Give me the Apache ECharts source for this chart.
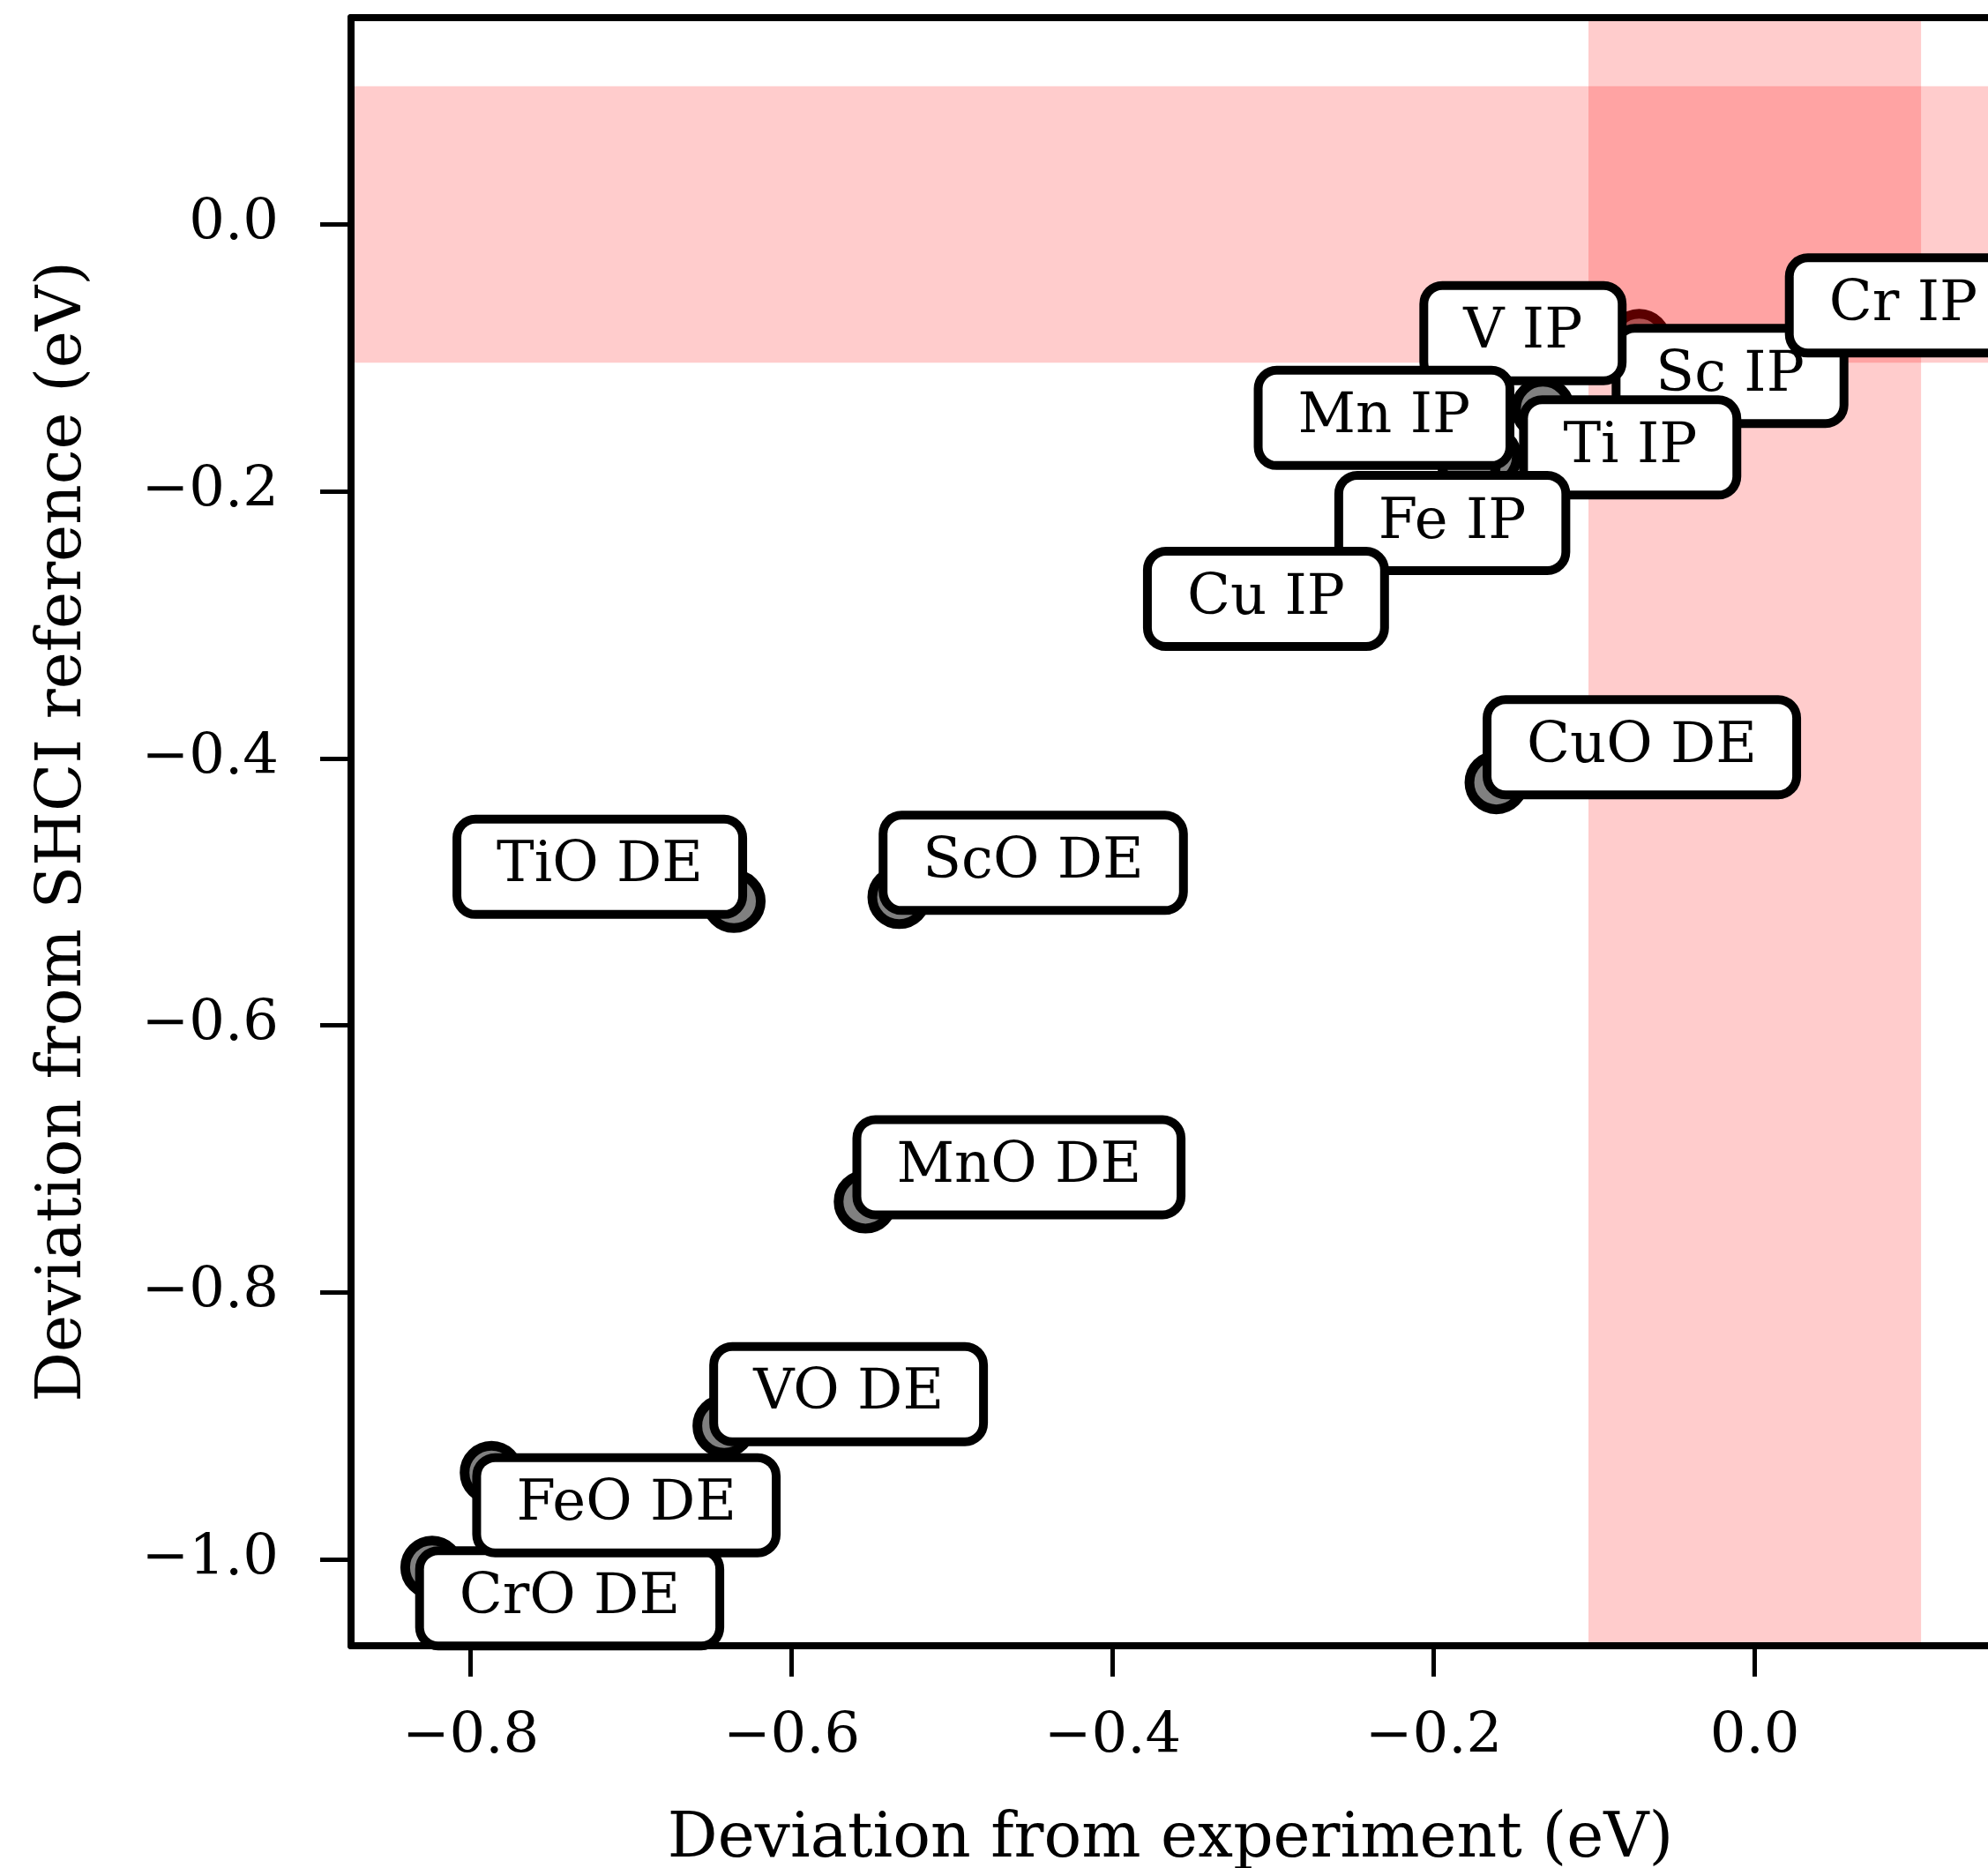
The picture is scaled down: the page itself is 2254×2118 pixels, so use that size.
<!DOCTYPE html>
<html><head><meta charset="utf-8">
<script src="https://cdn.jsdelivr.net/npm/echarts@6/dist/echarts.min.js"></script>
<style>html,body{margin:0;padding:0;background:#fff}#c{width:2254px;height:2118px}</style>
</head><body><div id="c"></div>
<script>
// ---- data ----
const names = ['ScO DE','TiO DE','VO DE','CrO DE','MnO DE','FeO DE','CuO DE','Sc IP','Ti IP','V IP','Cr IP','Mn IP','Fe IP','Cu IP'];
const devExperiment = [-0.533,-0.636,-0.642,-0.824,-0.554,-0.787,-0.161,-0.072,-0.132,-0.140,0.065,-0.165,-0.178,-0.210];
const devSHCI = [-0.504,-0.507,-0.900,-1.006,-0.732,-0.935,-0.418,-0.087,-0.138,-0.092,-0.060,-0.174,-0.180,-0.225];
const xTicks = [-0.8,-0.6,-0.4,-0.2,0.0];
const yTicks = [-1.0,-0.8,-0.6,-0.4,-0.2,0.0];
const bandHalfWidth = 0.1036;
const xRange = [-0.8745, 0.1464];
const yRange = [-1.0647, 0.1549];
const xTitle = 'Deviation from experiment (eV)';
const yTitle = 'Deviation from SHCI reference (eV)';
// ---- styles (label box offsets in px) ----
const labelOffsets = [[152,-39],[-152,-39],[141,-36],[156,35],[174,-39],[153,37],[165,-40],[103,40],[99,44],[-8,-16],[50,1],[-120,-44],[-19,66],[-172,84]];

const FONT = 'DejaVu Serif';
const fmt = v => (Math.abs(v) < 1e-9 ? 0 : v).toFixed(1).replace('-', '\u2212');

const pointData = names.map((n, i) => ({
  name: n, value: [devExperiment[i], devSHCI[i]]
}));
const labelData = names.map((n, i) => ({
  name: n, value: [devExperiment[i], devSHCI[i]],
  label: { offset: labelOffsets[i] }
}));

const chart = echarts.init(document.getElementById('c'), null, { renderer: 'canvas' });
const axisLineStyle = { color: '#000', width: 8 };
chart.setOption({
  animation: false,
  backgroundColor: '#fff',
  grid: { left: 398, top: 20, right: -2, bottom: 252, containLabel: false, outerBoundsMode: 'none' },
  xAxis: [{
    type: 'value', min: xRange[0], max: xRange[1], position: 'bottom', z: 10,
    splitLine: { show: false },
    axisLine: { show: true, onZero: false, lineStyle: axisLineStyle },
    axisTick: { show: true, inside: false, length: 35, lineStyle: { color: '#000', width: 5 }, customValues: xTicks },
    axisLabel: { customValues: xTicks, formatter: fmt, fontFamily: FONT, fontSize: 64, color: '#000', margin: 72 },
    name: xTitle, nameLocation: 'middle', nameGap: 185,
    nameTextStyle: { fontFamily: FONT, fontSize: 71, color: '#000' }
  }, {
    type: 'value', min: xRange[0], max: xRange[1], position: 'top', z: 10,
    splitLine: { show: false },
    axisLine: { show: true, onZero: false, lineStyle: axisLineStyle },
    axisTick: { show: false }, axisLabel: { show: false }
  }],
  yAxis: [{
    type: 'value', min: yRange[0], max: yRange[1], position: 'left', z: 10,
    splitLine: { show: false },
    axisLine: { show: true, onZero: false, lineStyle: axisLineStyle },
    axisTick: { show: true, inside: false, length: 35, lineStyle: { color: '#000', width: 5 }, customValues: yTicks },
    axisLabel: { customValues: yTicks, formatter: fmt, fontFamily: FONT, fontSize: 64, color: '#000', margin: 82 },
    name: yTitle, nameLocation: 'middle', nameGap: 290,
    nameTextStyle: { fontFamily: FONT, fontSize: 71, color: '#000' }
  }],
  series: [{
    type: 'scatter', name: 'points', z: 2, silent: true,
    symbol: 'circle', symbolSize: 61,
    itemStyle: { color: '#808080', borderColor: '#000', borderWidth: 11, opacity: 1 },
    emphasis: { disabled: true },
    data: pointData
  }, {
    type: 'scatter', name: 'bands', z: 3, silent: true, symbolSize: 0, data: [],
    markArea: {
      silent: true, z: 3,
      itemStyle: { color: 'rgba(255,0,0,0.2)', borderWidth: 0, opacity: 1 },
      label: { show: false },
      emphasis: { disabled: true },
      data: [
        [{ xAxis: -bandHalfWidth }, { xAxis: bandHalfWidth }],
        [{ yAxis: -bandHalfWidth }, { yAxis: bandHalfWidth }]
      ]
    }
  }, {
    type: 'scatter', name: 'labels', z: 5, silent: true, clip: false,
    symbol: 'circle', symbolSize: 1,
    itemStyle: { color: 'rgba(0,0,0,0)', opacity: 1 },
    emphasis: { disabled: true },
    label: {
      show: true, position: 'inside', formatter: '{b}',
      align: 'center', verticalAlign: 'middle',
      fontFamily: FONT, fontSize: 64, lineHeight: 64, color: '#000', opacity: 1,
      backgroundColor: '#fff', borderColor: '#000', borderWidth: 10, borderRadius: 16,
      padding: [17, 40]
    },
    data: labelData
  }]
});
</script></body></html>
